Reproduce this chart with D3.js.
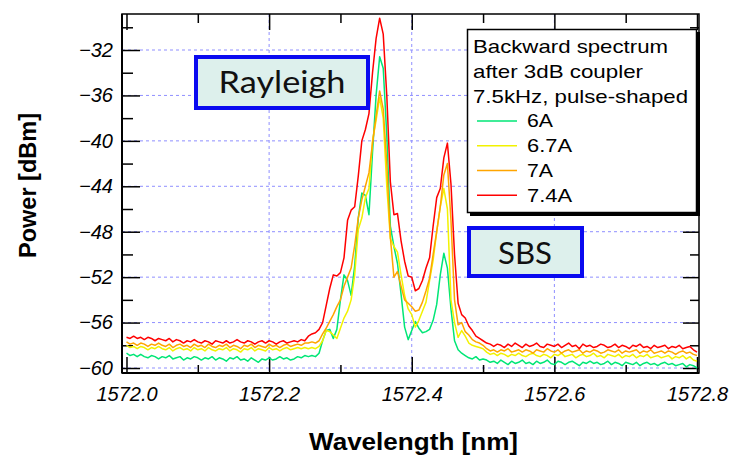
<!DOCTYPE html>
<html><head><meta charset="utf-8">
<script src="https://cdn.jsdelivr.net/npm/d3@7"></script>
<style>
html,body{margin:0;padding:0;background:#fff;}
svg{display:block;}
</style></head>
<body>
<svg id="chart" width="740" height="462"></svg>
<script>
// ---- data ----
const wavelength = [
1572.000,1572.005,1572.010,1572.015,1572.020,1572.025,1572.030,1572.035,1572.040,1572.045,
1572.050,1572.055,1572.060,1572.065,1572.070,1572.075,1572.080,1572.085,1572.090,1572.095,
1572.100,1572.105,1572.110,1572.115,1572.120,1572.125,1572.130,1572.135,1572.140,1572.145,
1572.150,1572.155,1572.160,1572.165,1572.170,1572.175,1572.180,1572.185,1572.190,1572.195,
1572.200,1572.205,1572.210,1572.215,1572.220,1572.225,1572.230,1572.235,1572.240,1572.245,
1572.250,
1572.255,1572.260,1572.265,1572.270,1572.275,1572.280,1572.285,1572.290,1572.295,1572.300,
1572.305,1572.310,1572.315,1572.320,1572.325,1572.330,1572.335,1572.340,1572.345,1572.350,
1572.355,1572.360,1572.365,1572.370,1572.375,1572.380,1572.385,1572.390,1572.395,1572.400,
1572.405,1572.410,1572.415,1572.420,1572.425,1572.430,1572.435,1572.440,1572.445,1572.450,
1572.455,1572.460,1572.465,1572.470,1572.475,1572.480,1572.485,1572.490,1572.495,1572.500,
1572.505,1572.510,1572.515,1572.520,1572.525,1572.530,1572.535,1572.540,1572.545,1572.550,
1572.555,1572.560,1572.565,1572.570,1572.575,1572.580,1572.585,1572.590,1572.595,1572.600,
1572.605,1572.610,1572.615,1572.620,1572.625,1572.630,1572.635,1572.640,1572.645,1572.650,
1572.655,1572.660,1572.665,1572.670,1572.675,1572.680,1572.685,1572.690,1572.695,1572.700,
1572.705,1572.710,1572.715,1572.720,1572.725,1572.730,1572.735,1572.740,1572.745,1572.750,
1572.755,1572.760,1572.765,1572.770,1572.775,1572.780,1572.785,1572.790,1572.795,1572.800
];

const power6A = [
-58.7,-58.9,-58.8,-59.0,-58.8,-59.0,-59.1,-58.9,-59.0,-59.2,
-59.0,-59.1,-58.9,-59.2,-59.1,-59.0,-59.3,-59.1,-59.2,-59.0,
-59.1,-59.3,-59.1,-59.2,-59.0,-59.3,-59.1,-59.2,-59.4,-59.1,
-59.2,-59.0,-59.3,-59.2,-59.4,-59.1,-59.3,-59.5,-59.2,-59.3,
-59.1,-59.3,-59.2,-59.0,-59.2,-59.1,-59.3,-59.2,-59.0,-59.1,
-58.9,
-59.0,-58.9,-59.0,-58.7,-57.6,-56.7,-56.6,-57.4,-56.6,-54.0,
-51.8,-52.3,-53.6,-51.0,-46.8,-44.6,-44.8,-46.5,-41.0,-36.0,
-32.6,-33.6,-39.5,-47.5,-49.3,-50.8,-53.5,-56.4,-57.5,-56.7,
-55.9,-56.5,-56.9,-56.8,-56.6,-55.8,-54.4,-51.8,-49.9,-51.2,
-54.8,-57.6,-58.4,-58.7,-58.9,-59.1,-59.2,-59.0,-59.3,-59.2,
-59.3,-59.5,-59.4,-59.6,-59.3,-59.5,-59.7,-59.4,-59.6,-59.5,
-59.3,-59.6,-59.5,-59.7,-59.4,-59.6,-59.5,-59.3,-59.6,-59.7,
-59.4,-59.5,-59.7,-59.5,-59.4,-59.6,-59.8,-59.5,-59.6,-59.4,
-59.6,-59.5,-59.7,-59.6,-59.4,-59.7,-59.5,-59.6,-59.8,-59.5,
-59.6,-59.7,-59.5,-59.8,-59.6,-59.5,-59.7,-59.6,-59.8,-59.6,
-59.5,-59.7,-59.6,-59.8,-59.7,-59.6,-59.9,-59.7,-59.8,-60.0
];

const power6_7A = [
-58.0,-58.2,-58.1,-58.3,-58.1,-58.2,-58.4,-58.2,-58.3,-58.1,
-58.3,-58.4,-58.2,-58.5,-58.3,-58.2,-58.4,-58.3,-58.5,-58.2,
-58.4,-58.3,-58.5,-58.2,-58.4,-58.5,-58.3,-58.4,-58.2,-58.5,
-58.3,-58.4,-58.6,-58.3,-58.4,-58.2,-58.5,-58.3,-58.4,-58.5,
-58.2,-58.4,-58.3,-58.5,-58.3,-58.2,-58.4,-58.3,-58.2,-58.3,
-58.2,
-58.3,-58.2,-58.3,-58.1,-57.6,-56.7,-56.8,-57.1,-57.4,-56.5,
-55.6,-55.0,-54.0,-51.8,-47.8,-46.8,-45.0,-44.2,-40.0,-38.2,
-36.2,-38.0,-44.0,-48.6,-49.3,-49.8,-51.8,-53.6,-54.8,-55.3,
-56.4,-55.8,-55.0,-54.2,-52.3,-50.5,-48.0,-45.8,-44.2,-46.0,
-54.0,-56.0,-57.3,-56.7,-57.2,-57.8,-58.0,-58.1,-58.2,-58.3,
-58.6,-58.8,-58.7,-58.9,-58.7,-58.8,-59.0,-58.8,-58.9,-58.7,
-58.9,-59.0,-58.8,-58.7,-58.9,-59.0,-58.8,-58.9,-59.1,-58.8,
-58.9,-58.7,-59.0,-58.9,-58.8,-59.1,-58.9,-58.8,-59.0,-58.9,
-58.7,-59.0,-58.9,-59.1,-58.8,-58.9,-59.0,-58.8,-59.1,-58.9,
-59.0,-58.8,-59.1,-58.9,-59.0,-58.8,-59.1,-59.0,-58.9,-59.1,
-59.0,-58.9,-59.2,-59.0,-59.1,-58.9,-59.2,-59.0,-59.3,-59.4
];

const power7A = [
-57.7,-57.9,-57.8,-58.0,-57.8,-57.9,-58.1,-57.9,-58.0,-57.8,
-58.0,-58.1,-57.9,-58.2,-58.0,-57.9,-58.1,-58.0,-58.2,-57.9,
-58.1,-58.0,-58.2,-57.9,-58.1,-58.2,-58.0,-58.1,-57.9,-58.2,
-58.0,-58.1,-58.3,-58.0,-58.1,-57.9,-58.2,-58.0,-58.1,-58.2,
-57.9,-58.1,-58.0,-58.2,-58.0,-57.9,-58.1,-58.0,-57.9,-58.0,
-57.8,
-57.8,-57.7,-57.8,-57.6,-57.0,-56.5,-55.9,-55.3,-54.6,-54.0,
-52.8,-52.0,-51.2,-49.2,-46.8,-45.2,-44.0,-42.8,-40.2,-37.8,
-35.6,-37.2,-42.0,-48.5,-52.0,-51.5,-52.8,-54.0,-54.3,-54.6,
-55.0,-54.9,-54.2,-53.2,-52.1,-50.0,-48.0,-45.8,-43.0,-42.0,
-47.0,-54.0,-56.2,-56.0,-56.8,-57.1,-57.5,-57.7,-57.8,-58.0,
-58.3,-58.5,-58.4,-58.6,-58.4,-58.5,-58.3,-58.6,-58.5,-58.4,
-58.6,-58.4,-58.5,-58.7,-58.4,-58.5,-58.6,-58.3,-58.5,-58.6,
-58.4,-58.7,-58.5,-58.4,-58.6,-58.5,-58.4,-58.7,-58.5,-58.6,
-58.4,-58.5,-58.7,-58.6,-58.4,-58.5,-58.6,-58.4,-58.7,-58.5,
-58.6,-58.5,-58.4,-58.7,-58.5,-58.6,-58.4,-58.7,-58.6,-58.5,
-58.7,-58.5,-58.6,-58.8,-58.6,-58.5,-58.7,-58.6,-58.8,-58.9
];

const power7_4A = [
-57.3,-57.4,-57.2,-57.4,-57.3,-57.5,-57.3,-57.4,-57.6,-57.4,
-57.5,-57.6,-57.4,-57.7,-57.5,-57.6,-57.8,-57.6,-57.7,-57.5,
-57.7,-57.8,-57.6,-57.7,-57.9,-57.6,-57.7,-57.8,-57.6,-57.8,
-57.7,-57.5,-57.7,-57.8,-57.6,-57.7,-57.9,-57.7,-57.6,-57.8,
-57.6,-57.7,-57.9,-57.7,-57.6,-57.8,-57.7,-57.6,-57.7,-57.5,
-57.6,
-57.2,-57.0,-56.9,-56.6,-56.0,-54.5,-53.0,-51.8,-51.9,-51.6,
-50.3,-47.0,-46.1,-45.8,-43.1,-40.0,-39.0,-37.6,-34.0,-31.0,
-29.2,-30.6,-36.0,-43.6,-46.5,-46.4,-48.8,-50.6,-51.9,-52.0,
-53.2,-53.0,-52.3,-51.2,-50.3,-47.5,-45.0,-44.2,-41.5,-40.2,
-43.8,-50.0,-54.3,-55.3,-55.6,-56.3,-56.7,-57.2,-57.4,-57.6,
-57.8,-57.9,-58.1,-57.9,-58.0,-58.2,-57.9,-58.1,-57.8,-58.0,
-58.2,-57.9,-58.1,-58.0,-57.8,-58.1,-58.2,-57.9,-58.0,-58.1,
-57.9,-58.2,-58.0,-57.8,-58.1,-58.0,-58.3,-57.9,-58.1,-58.0,
-58.2,-58.1,-57.9,-58.0,-58.2,-58.1,-57.9,-58.2,-58.0,-58.1,
-58.3,-58.0,-58.1,-57.9,-58.2,-58.1,-58.3,-58.0,-58.2,-58.1,
-58.0,-58.3,-58.1,-58.2,-58.0,-58.3,-58.2,-58.1,-58.4,-58.6
];

const seriesNames = ["6A", "6.7A", "7A", "7.4A"];
const seriesValues = [power6A, power6_7A, power7A, power7_4A];
const seriesColors = ["#00e676", "#f2f200", "#ffa500", "#ff0000"];

const yTickValues = [-60, -56, -52, -48, -44, -40, -36, -32];
const yMinorValues = [-58, -54, -50, -46, -42, -38, -34, -30];
const xTickValues = [1572.0, 1572.2, 1572.4, 1572.6, 1572.8];
const xMinorValues = [1572.1, 1572.3, 1572.5, 1572.7];
const xGridValues = [1572.2, 1572.4, 1572.6];

const legendTitle = ["Backward spectrum", "after 3dB coupler", "7.5kHz, pulse-shaped"];

// ---- layout ----
const L = 122, R = 699, T = 14, B = 373;
const svg = d3.select("#chart");
const x = d3.scaleLinear().domain([1571.9937, 1572.8028]).range([L, R]);
const y = d3.scaleLinear().domain([-60.44, -28.83]).range([B, T]);

// grid
const grid = svg.append("g").attr("stroke", "#8f8fff").attr("stroke-width", 1).attr("stroke-dasharray", "3,3");
grid.selectAll("line.h").data(yTickValues).join("line")
  .attr("x1", L).attr("x2", R).attr("y1", d => y(d)).attr("y2", d => y(d));
grid.selectAll("line.v").data(xGridValues).join("line")
  .attr("y1", T).attr("y2", B).attr("x1", d => x(d)).attr("x2", d => x(d));

// axes
const fontTick = "'Liberation Sans', Arial, sans-serif";
function styleAxis(g) {
  g.select(".domain").remove();
  g.selectAll("line").attr("stroke", "#000").attr("stroke-width", 1.5);
  g.selectAll("text").attr("font-family", fontTick).attr("font-style", "italic")
    .attr("font-size", 20).attr("fill", "#000");
}
svg.append("g").attr("transform", `translate(${L},0)`)
  .call(d3.axisLeft(y).tickValues(yTickValues).tickSizeInner(-18).tickSizeOuter(0).tickPadding(9).tickFormat(d3.format("d")))
  .call(styleAxis);
svg.append("g").attr("transform", `translate(${L},0)`)
  .call(d3.axisLeft(y).tickValues(yMinorValues).tickSizeInner(-11).tickSizeOuter(0).tickFormat(""))
  .call(styleAxis);
svg.append("g").attr("transform", `translate(${R},0)`)
  .call(d3.axisRight(y).tickValues(yTickValues).tickSizeInner(-16).tickSizeOuter(0).tickFormat(""))
  .call(styleAxis);
svg.append("g").attr("transform", `translate(${R},0)`)
  .call(d3.axisRight(y).tickValues(yMinorValues).tickSizeInner(-9).tickSizeOuter(0).tickFormat(""))
  .call(styleAxis);
svg.append("g").attr("transform", `translate(0,${B})`)
  .call(d3.axisBottom(x).tickValues(xTickValues).tickSizeInner(-16).tickSizeOuter(0).tickPadding(14).tickFormat(d3.format(".1f")))
  .call(styleAxis);
svg.append("g").attr("transform", `translate(0,${B})`)
  .call(d3.axisBottom(x).tickValues(xMinorValues).tickSizeInner(-8).tickSizeOuter(0).tickFormat(""))
  .call(styleAxis);
svg.append("g").attr("transform", `translate(0,${T})`)
  .call(d3.axisTop(x).tickValues(xTickValues).tickSizeInner(-16).tickSizeOuter(0).tickFormat(""))
  .call(styleAxis);
svg.append("g").attr("transform", `translate(0,${T})`)
  .call(d3.axisTop(x).tickValues(xMinorValues).tickSizeInner(-9).tickSizeOuter(0).tickFormat(""))
  .call(styleAxis);

// frame
svg.append("rect").attr("x", L).attr("y", T).attr("width", R - L).attr("height", B - T)
  .attr("fill", "none").attr("stroke", "#000").attr("stroke-width", 1.5);
svg.append("line").attr("x1", L).attr("x2", L).attr("y1", T).attr("y2", B).attr("stroke", "#000").attr("stroke-width", 2);
svg.append("line").attr("x1", L).attr("x2", R).attr("y1", B).attr("y2", B).attr("stroke", "#000").attr("stroke-width", 2);

// lines
const line = d3.line().x((d, i) => x(wavelength[i])).y(d => y(d));
svg.append("g").selectAll("path").data(seriesValues).join("path")
  .attr("d", d => line(d))
  .attr("fill", "none")
  .attr("stroke", (d, i) => seriesColors[i])
  .attr("stroke-width", 1.5)
  .attr("stroke-linejoin", "round");

// annotation boxes
const annFont = "Lato, 'Open Sans', sans-serif";
function annBox(x0, y0, w, h, label, cx, base, len) {
  svg.append("rect").attr("x", x0).attr("y", y0).attr("width", w).attr("height", h)
    .attr("fill", "#ddf0ec").attr("stroke", "#0a0af0").attr("stroke-width", 4);
  svg.append("text").attr("x", cx).attr("y", base).attr("text-anchor", "middle")
    .attr("font-family", annFont).attr("font-size", 30).attr("fill", "#111")
    .attr("textLength", len).attr("lengthAdjust", "spacingAndGlyphs").text(label);
}
annBox(196, 57, 172, 51, "Rayleigh", 282, 93, 127);
annBox(469, 228, 113, 48, "SBS", 525, 264, 54);

// legend
const lg = svg.append("g");
lg.append("rect").attr("x", 470).attr("y", 32).attr("width", 230).attr("height", 184).attr("fill", "#000");
lg.append("rect").attr("x", 467.5).attr("y", 29.5).attr("width", 229).attr("height", 183)
  .attr("fill", "#fff").attr("stroke", "#000").attr("stroke-width", 1.5);
const titleLens = [195, 170, 215];
legendTitle.forEach((t, i) => {
  lg.append("text").attr("x", 473).attr("y", 53 + i * 24.8)
    .attr("font-family", fontTick).attr("font-size", 19).attr("fill", "#000")
    .attr("textLength", titleLens[i]).attr("lengthAdjust", "spacingAndGlyphs").text(t);
});
const nameLens = [26, 45, 26, 45];
seriesNames.forEach((n, i) => {
  const by = 53 + (i + 3) * 24.8;
  lg.append("line").attr("x1", 477).attr("x2", 517).attr("y1", by - 6.5).attr("y2", by - 6.5)
    .attr("stroke", seriesColors[i]).attr("stroke-width", 1.5);
  lg.append("text").attr("x", 527).attr("y", by)
    .attr("font-family", fontTick).attr("font-size", 19).attr("fill", "#000")
    .attr("textLength", nameLens[i]).attr("lengthAdjust", "spacingAndGlyphs").text(n);
});

// axis titles
svg.append("text").attr("x", 413.5).attr("y", 450).attr("text-anchor", "middle")
  .attr("font-family", fontTick).attr("font-weight", "bold").attr("font-size", 24)
  .attr("textLength", 209).attr("lengthAdjust", "spacingAndGlyphs").text("Wavelength [nm]");
svg.append("text").attr("transform", "translate(36,185.5) rotate(-90)").attr("text-anchor", "middle")
  .attr("font-family", fontTick).attr("font-weight", "bold").attr("font-size", 24)
  .attr("textLength", 145).attr("lengthAdjust", "spacingAndGlyphs").text("Power [dBm]");
</script>
</body></html>
